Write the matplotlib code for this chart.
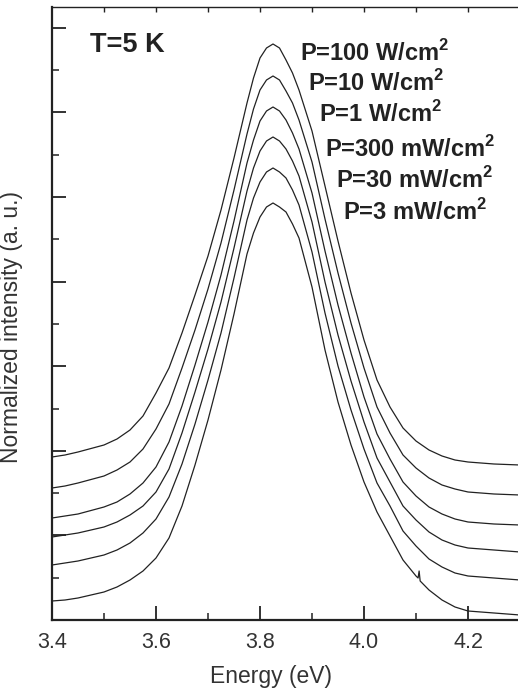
import matplotlib
matplotlib.use('Agg')
import matplotlib.pyplot as plt
from matplotlib.ticker import MultipleLocator

plt.rcParams['font.family'] = ['Liberation Sans', 'DejaVu Sans']
plt.rcParams['mathtext.fontset'] = 'custom'
plt.rcParams['mathtext.rm'] = 'Liberation Sans'
plt.rcParams['mathtext.bf'] = 'Liberation Sans:bold'

# ---------------- data ----------------
energy = [3.40, 3.425, 3.45, 3.50, 3.525, 3.55, 3.575, 3.60,
          3.625, 3.65, 3.675, 3.70, 3.725, 3.75, 3.775,
          3.7875, 3.80, 3.8125, 3.825, 3.8375, 3.85, 3.8625, 3.875,
          3.90, 3.925, 3.95, 3.975, 4.00,
          4.025, 4.05, 4.075, 4.10, 4.125, 4.15, 4.175, 4.20, 4.25, 4.30]

p100W = [163, 165, 168, 175, 181, 190, 204, 227,
         252, 287, 325, 364, 410, 462, 517,
         542, 562, 572, 576, 572, 560, 547, 530,
         489, 434, 379, 327, 280,
         240, 213, 192, 179, 170, 164, 160, 158, 156, 155]
p10W = [132, 134, 137, 144, 150, 158, 171, 191,
        216, 252, 290, 331, 377, 430, 486,
        511, 530, 540, 544, 540, 529, 517, 500,
        458, 401, 347, 297, 252,
        213, 187, 165, 152, 142, 135, 131, 128, 126, 125]
p1W = [102, 104, 106, 113, 118, 126, 137, 153,
       178, 214, 255, 298, 345, 399, 457,
       480, 499, 509, 513, 509, 500, 487, 471,
       427, 369, 315, 267, 223,
       186, 161, 138, 124, 113, 106, 101, 98, 96, 95]
p300mW = [83, 85, 87, 93, 98, 105, 114, 128,
          151, 187, 228, 271, 318, 372, 429,
          452, 469, 479, 483, 479, 471, 459, 444,
          398, 338, 285, 239, 198,
          162, 138, 114, 100, 88, 80, 75, 72, 70, 68]
p30mW = [55, 57, 59, 65, 70, 77, 87, 101,
         123, 156, 196, 240, 287, 342, 400,
         422, 438, 448, 452, 448, 442, 430, 415,
         368, 307, 254, 210, 171,
         137, 114, 89, 74, 61, 53, 47, 44, 42, 40]

energy_3mW = [3.40, 3.425, 3.45, 3.50, 3.525, 3.55, 3.575, 3.60,
              3.625, 3.65, 3.675, 3.70, 3.725, 3.75, 3.775,
              3.7875, 3.80, 3.8125, 3.825, 3.8375, 3.85, 3.8625, 3.875,
              3.90, 3.925, 3.95, 3.975, 4.00,
              4.025, 4.05, 4.075, 4.10, 4.104, 4.106, 4.108,
              4.125, 4.15, 4.175, 4.20, 4.25, 4.30]
p3mW = [19, 20, 22, 28, 33, 40, 49, 62,
        82, 114, 155, 200, 250, 306, 366,
        387, 403, 413, 417, 413, 408, 396, 382,
        333, 270, 218, 175, 138,
        108, 84, 60, 44, 42, 49, 39,
        30, 20, 13, 9, 7, 5]

labels = ['P=100 W/cm', 'P=10 W/cm', 'P=1 W/cm', 'P=300 mW/cm', 'P=30 mW/cm', 'P=3 mW/cm']
xticks = [3.4, 3.6, 3.8, 4.0, 4.2]
xticklabels = ['3.4', '3.6', '3.8', '4.0', '4.2']
top_ticks = [3.5, 3.6, 3.7, 3.8, 3.9, 4.0, 4.1, 4.2]

# ---------------- figure ----------------
W, H = 518, 697
fig = plt.figure(figsize=(W / 100, H / 100), dpi=100)
ax = fig.add_axes([52 / W, 77 / H, 468 / W, 613 / H])

col = '#222222'
series = [(energy, p100W), (energy, p10W), (energy, p1W),
          (energy, p300mW), (energy, p30mW), (energy_3mW, p3mW)]
for ex, ys in series:
    ax.plot(ex, ys, color=col, lw=0.9)

ax.set_xlim(3.4, 4.3)
ax.set_ylim(0, 613)
ax.set_xticks(xticks)
ax.set_xticklabels(xticklabels)
ax.xaxis.set_minor_locator(MultipleLocator(0.1))
ax.yaxis.set_major_locator(MultipleLocator(84.6))
ax.yaxis.set_minor_locator(MultipleLocator(42.3))

ax.tick_params(which='both', direction='in', top=False, right=False, colors=col)
ax.tick_params(which='major', length=10, width=1.3)
ax.tick_params(which='minor', length=5, width=1.1)
ax.tick_params(axis='y', labelleft=False)
ax.tick_params(axis='x', labelsize=15.5, pad=9, labelcolor='#333333')

ax.spines['right'].set_visible(False)
ax.spines['top'].set_linewidth(1.0)
ax.spines['left'].set_linewidth(1.6)
ax.spines['bottom'].set_linewidth(1.6)
for s in ax.spines.values():
    s.set_color(col)

sec = ax.secondary_xaxis('top')
sec.set_xticks(top_ticks)
sec.tick_params(direction='in', length=3.5, width=1.0, labeltop=False, colors=col)
sec.spines['top'].set_visible(False)

ax.set_xlabel('Energy (eV)', fontsize=16.5, color='#333333')
ax.xaxis.set_label_coords((271 - 52) / 468, -(665 - 620) / 613)
ax.set_ylabel('Normalized intensity (a. u.)', fontsize=16.5, color='#333333')
ax.yaxis.set_label_coords(-(52 - 23) / 468, (620 - 327) / 613)

def fx(x):
    return x / W

def fy(y):
    return 1 - y / H

fig.text(fx(90), fy(52), 'T=5 K', fontsize=19.5, fontweight='bold', color=col,
         ha='left', va='baseline')

lab_x = [300, 308, 319, 325, 336, 343]
lab_y = [61, 91, 122, 157, 188, 220]
for t, x, y in zip(labels, lab_x, lab_y):
    fig.text(fx(x), fy(y), t + r'$^{\mathbf{2}}$', fontsize=17, fontweight='bold',
             color=col, ha='left', va='baseline')

fig.savefig('out.png', dpi=100)
